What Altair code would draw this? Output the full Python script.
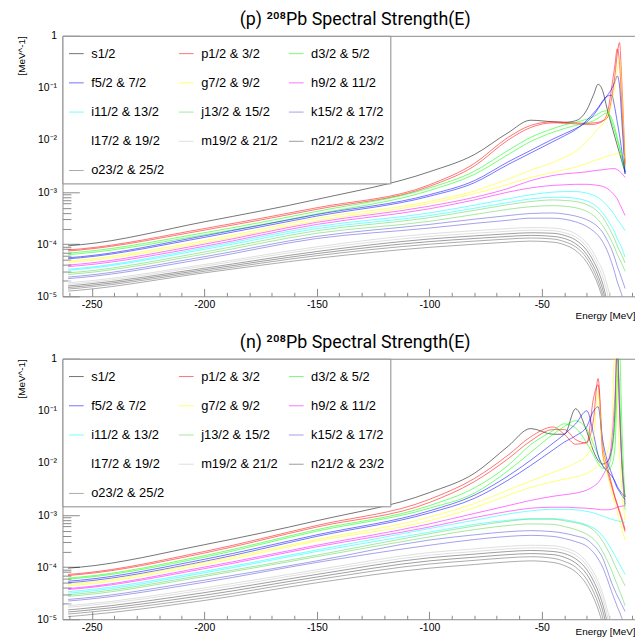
import altair as alt
import pandas as pd

# Energy grid [MeV] shared by all curves
E = [-260.5, -255, -200, -150, -100, -80, -65, -55, -45, -40, -35, -30, -27, -25,
     -23, -21, -19, -17.5, -16.5, -15.5, -14.5, -13]

GROUPS = ["s1/2", "p1/2 & 3/2", "d3/2 & 5/2", "f5/2 & 7/2", "g7/2 & 9/2", "h9/2 & 11/2",
          "i11/2 & 13/2", "j13/2 & 15/2", "k15/2 & 17/2", "l17/2 & 19/2", "m19/2 & 21/2",
          "n21/2 & 23/2", "o23/2 & 25/2"]
COLORS = ["#000000", "#ff0000", "#00ff00", "#0000ff", "#ffff00", "#ff00ff", "#00ffff",
          "#59d454", "#5954d9", "#ffffff", "#c4c4c4", "#4d4d4d", "#666666"]

# ---- proton panel, log10 of strength ----
P_S   = [-4.03, -4.01, -3.57, -3.14, -2.61, -2.28, -1.86, -1.62, -1.65, -1.66, -1.63, -1.42, -1.13, -0.93, -1.05, -1.40, -1.72, -1.95, -2.10, -2.25, -2.40, -2.62]
P_P_A = [-4.11, -4.09, -3.70, -3.30, -2.86, -2.45, -1.95, -1.72, -1.65, -1.66, -1.67, -1.68, -1.67, -1.66, -1.63, -1.58, -1.20, -0.75, -0.35, -0.13, -0.85, -2.45]
P_P_B = [-4.13, -4.11, -3.73, -3.33, -2.89, -2.50, -2.00, -1.76, -1.67, -1.68, -1.69, -1.70, -1.70, -1.68, -1.64, -1.50, -1.00, -0.55, -0.25, -0.50, -1.30, -2.50]
P_D_A = [-4.17, -4.15, -3.78, -3.37, -2.92, -2.60, -2.20, -1.95, -1.78, -1.71, -1.66, -1.60, -1.55, -1.50, -1.45, -1.44, -1.65, -1.85, -2.00, -2.15, -2.35, -2.60]
P_D_B = [-4.20, -4.18, -3.82, -3.42, -2.97, -2.66, -2.28, -2.03, -1.85, -1.78, -1.72, -1.67, -1.63, -1.58, -1.52, -1.48, -1.58, -1.78, -1.95, -2.12, -2.30, -2.60]
P_F_A = [-4.26, -4.24, -3.84, -3.43, -3.05, -2.78, -2.42, -2.20, -1.98, -1.88, -1.78, -1.65, -1.52, -1.40, -1.27, -1.15, -1.02, -0.88, -0.77, -0.95, -1.60, -2.65]
P_F_B = [-4.28, -4.26, -3.87, -3.46, -3.08, -2.82, -2.47, -2.25, -2.03, -1.92, -1.80, -1.62, -1.48, -1.38, -1.25, -1.16, -1.14, -1.40, -1.65, -1.90, -2.20, -2.65]
P_G_A = [-4.32, -4.30, -3.93, -3.50, -3.18, -2.98, -2.75, -2.58, -2.43, -2.33, -2.22, -2.02, -1.88, -1.78, -1.70, -1.55, -1.30, -0.95, -0.65, -0.45, -1.00, -2.50]
P_G_B = [-4.35, -4.33, -3.97, -3.55, -3.22, -3.03, -2.85, -2.72, -2.62, -2.57, -2.52, -2.45, -2.40, -2.37, -2.34, -2.31, -2.29, -2.27, -2.26, -2.26, -2.27, -2.35]
P_H_A = [-4.40, -4.38, -4.00, -3.58, -3.27, -3.10, -2.93, -2.78, -2.68, -2.65, -2.63, -2.61, -2.59, -2.58, -2.57, -2.56, -2.55, -2.55, -2.57, -2.60, -2.64, -2.72]
P_H_B = [-4.43, -4.41, -4.04, -3.62, -3.32, -3.15, -3.00, -2.92, -2.87, -2.86, -2.85, -2.85, -2.86, -2.87, -2.89, -2.93, -3.00, -3.07, -3.13, -3.22, -3.31, -3.45]
P_I_A = [-4.48, -4.46, -4.07, -3.66, -3.40, -3.25, -3.13, -3.05, -3.00, -2.99, -2.99, -3.02, -3.06, -3.10, -3.17, -3.26, -3.36, -3.45, -3.52, -3.58, -3.64, -3.74]
P_I_B = [-4.50, -4.48, -4.10, -3.70, -3.45, -3.31, -3.20, -3.13, -3.10, -3.10, -3.12, -3.17, -3.23, -3.30, -3.40, -3.52, -3.66, -3.78, -3.90, -3.98, -4.07, -4.25]
P_J_A = [-4.55, -4.53, -4.15, -3.74, -3.49, -3.35, -3.24, -3.18, -3.15, -3.16, -3.18, -3.24, -3.31, -3.38, -3.48, -3.62, -3.78, -3.92, -4.03, -4.12, -4.21, -4.36]
P_J_B = [-4.58, -4.56, -4.19, -3.79, -3.56, -3.43, -3.33, -3.28, -3.26, -3.27, -3.30, -3.37, -3.45, -3.53, -3.64, -3.78, -3.94, -4.08, -4.19, -4.28, -4.37, -4.52]
P_K_A = [-4.63, -4.61, -4.24, -3.85, -3.62, -3.52, -3.45, -3.41, -3.40, -3.42, -3.46, -3.53, -3.60, -3.67, -3.77, -3.92, -4.10, -4.28, -4.42, -4.54, -4.66, -4.85]
P_K_B = [-4.66, -4.64, -4.28, -3.89, -3.69, -3.60, -3.54, -3.50, -3.50, -3.52, -3.57, -3.66, -3.75, -3.83, -3.95, -4.12, -4.35, -4.56, -4.72, -4.84, -4.97, -5.20]
P_L_A = [-4.70, -4.68, -4.33, -3.97, -3.72, -3.66, -3.62, -3.60, -3.61, -3.64, -3.71, -3.88, -4.05, -4.20, -4.42, -4.75, -5.15, -5.45, -5.65, -5.85, -6.05, -6.40]
P_L_B = [-4.72, -4.70, -4.36, -4.01, -3.76, -3.70, -3.66, -3.64, -3.65, -3.68, -3.76, -3.94, -4.12, -4.27, -4.50, -4.83, -5.22, -5.50, -5.70, -5.90, -6.10, -6.45]
P_M_A = [-4.74, -4.72, -4.39, -4.05, -3.80, -3.74, -3.70, -3.68, -3.69, -3.72, -3.80, -3.98, -4.17, -4.33, -4.50, -4.78, -5.12, -5.45, -5.70, -5.90, -6.10, -6.50]
P_M_B = [-4.77, -4.75, -4.42, -4.09, -3.85, -3.79, -3.75, -3.73, -3.74, -3.78, -3.86, -4.05, -4.25, -4.42, -4.62, -4.92, -5.30, -5.60, -5.80, -6.00, -6.20, -6.60]
P_N_A = [-4.80, -4.78, -4.46, -4.14, -3.90, -3.84, -3.80, -3.78, -3.79, -3.83, -3.92, -4.12, -4.33, -4.51, -4.75, -5.10, -5.50, -5.80, -6.00, -6.20, -6.40, -6.70]
P_N_B = [-4.83, -4.81, -4.49, -4.18, -3.95, -3.89, -3.85, -3.83, -3.85, -3.89, -3.99, -4.20, -4.42, -4.61, -4.86, -5.22, -5.60, -5.90, -6.10, -6.30, -6.50, -6.80]
P_O_A = [-4.86, -4.84, -4.52, -4.22, -4.00, -3.94, -3.90, -3.88, -3.90, -3.95, -4.05, -4.27, -4.50, -4.70, -4.96, -5.32, -5.70, -6.00, -6.20, -6.40, -6.60, -6.90]
P_O_B = [-4.90, -4.88, -4.55, -4.27, -4.06, -4.00, -3.96, -3.94, -3.96, -4.01, -4.12, -4.35, -4.58, -4.78, -5.05, -5.40, -5.80, -6.10, -6.30, -6.50, -6.70, -7.00]

# ---- neutron panel ----
N_S   = [-4.02, -4.00, -3.57, -3.11, -2.57, -2.20, -1.68, -1.34, -1.45, -1.45, -0.96, -1.40, -1.78, -1.95, -2.02, -1.98, -1.75, -1.00, 0.30, -0.90, -1.90, -2.65]
N_P_A = [-4.14, -4.12, -3.70, -3.20, -2.70, -2.30, -1.85, -1.50, -1.31, -1.45, -1.64, -1.60, -1.15, -0.38, -1.65, -2.05, -2.40, -2.65, -2.78, -2.92, -3.05, -3.28]
N_P_B = [-4.16, -4.14, -3.73, -3.23, -2.76, -2.36, -1.92, -1.58, -1.36, -1.36, -1.55, -1.62, -0.75, -0.50, -1.80, -2.15, -2.45, -2.68, -2.82, -2.95, -3.10, -3.32]
N_D_A = [-4.21, -4.19, -3.78, -3.28, -2.82, -2.48, -2.05, -1.65, -1.38, -1.25, -1.33, -1.62, -1.85, -2.01, -2.10, -2.10, -1.80, -1.20, 0.20, -0.60, -1.90, -2.90]
N_D_B = [-4.23, -4.21, -3.81, -3.31, -2.87, -2.58, -2.15, -1.80, -1.45, -1.30, -1.19, -1.35, -1.65, -1.85, -2.05, -2.15, -2.05, -1.70, -0.50, 0.20, -1.20, -2.80]
N_F_A = [-4.27, -4.25, -3.85, -3.38, -2.92, -2.62, -2.25, -1.95, -1.62, -1.45, -1.25, -1.00, -1.45, -1.85, -2.05, -2.15, -2.25, -2.35, -2.45, -2.52, -2.58, -2.65]
N_F_B = [-4.30, -4.28, -3.89, -3.41, -2.96, -2.68, -2.33, -2.05, -1.75, -1.60, -1.48, -1.30, -1.00, -0.92, -1.55, -1.95, -2.20, -2.38, -2.48, -2.55, -2.62, -2.70]
N_G_A = [-4.33, -4.31, -3.91, -3.47, -3.04, -2.78, -2.52, -2.35, -2.18, -2.10, -2.00, -1.85, -1.50, -0.65, -1.70, -2.20, -2.55, -2.80, -2.95, -3.10, -3.25, -3.48]
N_G_B = [-4.36, -4.34, -3.95, -3.50, -3.11, -2.86, -2.62, -2.47, -2.36, -2.31, -2.27, -2.20, -2.12, -2.05, -1.95, -1.80, -1.40, 0.20, -0.80, -1.80, -2.50, -3.10]
N_H_A = [-4.41, -4.39, -4.00, -3.58, -3.17, -2.97, -2.82, -2.72, -2.64, -2.61, -2.58, -2.52, -2.45, -2.38, -2.25, -2.05, -1.60, -0.70, 0.20, -1.00, -2.00, -2.80]
N_H_B = [-4.43, -4.41, -4.03, -3.61, -3.23, -3.05, -2.93, -2.87, -2.85, -2.85, -2.86, -2.87, -2.88, -2.89, -2.90, -2.90, -2.89, -2.87, -2.85, -2.84, -2.83, -2.82]
N_I_A = [-4.47, -4.45, -4.08, -3.67, -3.26, -3.10, -2.98, -2.92, -2.89, -2.89, -2.90, -2.93, -2.96, -2.99, -3.02, -3.05, -3.08, -3.10, -3.11, -3.12, -3.13, -3.14]
N_I_B = [-4.50, -4.48, -4.11, -3.70, -3.33, -3.18, -3.10, -3.07, -3.07, -3.09, -3.13, -3.19, -3.25, -3.31, -3.40, -3.52, -3.66, -3.78, -3.86, -3.94, -4.02, -4.14]
N_J_A = [-4.53, -4.51, -4.15, -3.77, -3.36, -3.21, -3.12, -3.08, -3.08, -3.11, -3.15, -3.21, -3.29, -3.38, -3.50, -3.65, -3.82, -3.97, -4.06, -4.15, -4.23, -4.36]
N_J_B = [-4.56, -4.54, -4.18, -3.80, -3.42, -3.28, -3.20, -3.17, -3.18, -3.22, -3.28, -3.37, -3.46, -3.56, -3.70, -3.87, -4.06, -4.23, -4.34, -4.45, -4.56, -4.74]
N_K_A = [-4.62, -4.60, -4.25, -3.88, -3.48, -3.38, -3.32, -3.30, -3.32, -3.35, -3.40, -3.47, -3.58, -3.68, -3.82, -4.05, -4.30, -4.45, -4.55, -4.63, -4.72, -4.85]
N_K_B = [-4.65, -4.63, -4.29, -3.91, -3.58, -3.47, -3.41, -3.39, -3.41, -3.45, -3.51, -3.60, -3.72, -3.84, -4.00, -4.22, -4.47, -4.64, -4.76, -4.86, -4.97, -5.15]
N_L_A = [-4.68, -4.66, -4.33, -3.98, -3.64, -3.57, -3.52, -3.50, -3.51, -3.54, -3.61, -3.78, -3.96, -4.12, -4.35, -4.68, -5.08, -5.40, -5.60, -5.80, -6.00, -6.40]
N_L_B = [-4.71, -4.69, -4.36, -4.01, -3.68, -3.61, -3.56, -3.54, -3.55, -3.58, -3.66, -3.84, -4.03, -4.20, -4.43, -4.77, -5.17, -5.50, -5.70, -5.90, -6.10, -6.50]
N_M_A = [-4.74, -4.72, -4.40, -4.05, -3.72, -3.65, -3.60, -3.58, -3.59, -3.63, -3.71, -3.90, -4.10, -4.27, -4.50, -4.80, -5.15, -5.50, -5.70, -5.90, -6.10, -6.50]
N_M_B = [-4.77, -4.75, -4.44, -4.09, -3.77, -3.70, -3.65, -3.63, -3.64, -3.68, -3.77, -3.97, -4.18, -4.36, -4.60, -4.92, -5.30, -5.60, -5.80, -6.00, -6.20, -6.60]
N_N_A = [-4.82, -4.80, -4.49, -4.14, -3.82, -3.75, -3.70, -3.68, -3.70, -3.74, -3.84, -4.05, -4.27, -4.46, -4.71, -5.05, -5.45, -5.75, -5.95, -6.15, -6.35, -6.75]
N_N_B = [-4.86, -4.84, -4.54, -4.19, -3.88, -3.81, -3.76, -3.74, -3.76, -3.81, -3.92, -4.14, -4.37, -4.57, -4.83, -5.18, -5.58, -5.90, -6.10, -6.30, -6.50, -6.90]
N_O_A = [-4.90, -4.88, -4.59, -4.24, -3.94, -3.87, -3.82, -3.80, -3.83, -3.89, -4.00, -4.24, -4.48, -4.69, -4.96, -5.32, -5.72, -6.00, -6.20, -6.40, -6.60, -7.00]
N_O_B = [-4.95, -4.93, -4.64, -4.30, -4.02, -3.95, -3.90, -3.88, -3.91, -3.97, -4.09, -4.34, -4.59, -4.81, -5.09, -5.45, -5.85, -6.15, -6.35, -6.55, -6.75, -7.15]

PROTON = [P_S, P_P_A, P_P_B, P_D_A, P_D_B, P_F_A, P_F_B, P_G_A, P_G_B, P_H_A, P_H_B,
          P_I_A, P_I_B, P_J_A, P_J_B, P_K_A, P_K_B, P_L_A, P_L_B, P_M_A, P_M_B,
          P_N_A, P_N_B, P_O_A, P_O_B]
NEUTRON = [N_S, N_P_A, N_P_B, N_D_A, N_D_B, N_F_A, N_F_B, N_G_A, N_G_B, N_H_A, N_H_B,
           N_I_A, N_I_B, N_J_A, N_J_B, N_K_A, N_K_B, N_L_A, N_L_B, N_M_A, N_M_B,
           N_N_A, N_N_B, N_O_A, N_O_B]
CURVE_GROUP = [0] + [g for g in range(1, 13) for _ in (0, 1)]

MAJ_X = [-250, -200, -150, -100, -50]
MIN_X = [-260, -240, -230, -220, -210, -190, -180, -170, -160, -140, -130, -120, -110,
         -90, -80, -70, -60, -40, -30, -20, -10]
MAJ_Y = [1e-5, 1e-4, 1e-3, 1e-2, 1e-1, 1]
MIN_Y = [m * 10.0 ** k for k in range(-5, 0) for m in range(2, 10)]

W, H = 578, 263
FRAME = "#8a8a8a"


def frame_of(curves):
    rows = []
    for ci, vals in enumerate(curves):
        grp = GROUPS[CURVE_GROUP[ci]]
        for e, v in zip(E, vals):
            rows.append({"grp": grp, "curve": f"c{ci}", "E": e, "S": 10.0 ** v})
    return pd.DataFrame(rows)


def panel(curves, title, xty):
    d = frame_of(curves)
    xs = alt.Scale(domain=[-263, -8.6], nice=False, zero=False)
    ys = alt.Scale(type="log", domain=[1e-5, 1], nice=False)
    ylab = ("datum.value >= 0.5 ? '1' : '10' + ['', '\u207b\u00b9', '\u207b\u00b2', "
            "'\u207b\u00b3', '\u207b\u2074', '\u207b\u2075'][round(-log(datum.value)/LN10)]")
    inside = (alt.datum.S >= 1e-5) & (alt.datum.S <= 1)

    lines = alt.Chart(d).mark_line(clip=True, strokeWidth=1, opacity=0.55,
                                   interpolate="monotone").encode(
        x=alt.X("E:Q", scale=xs, axis=alt.Axis(
            orient="bottom", values=MAJ_X, labelExpr="'' + datum.value", ticks=False,
            grid=False, domainColor=FRAME, labelFontSize=10.5, labelColor="#000",
            labelPadding=3, title="Energy [MeV]", titleFontSize=10,
            titleFontWeight="normal", titleColor="#000", titleX=W, titleY=xty,
            titleAlign="right", titleBaseline="middle")),
        y=alt.Y("S:Q", scale=ys, axis=alt.Axis(
            orient="left", values=MAJ_Y, labelExpr=ylab, ticks=False, grid=False,
            domainColor=FRAME, labelFontSize=10.5, labelColor="#000", labelPadding=6,
            title="[MeV^-1]", titleFontSize=10, titleFontWeight="normal",
            titleColor="#000", titleAngle=270, titleX=-41, titleY=0,
            titleAlign="right", titleBaseline="middle")),
        color=alt.Color("grp:N", scale=alt.Scale(domain=GROUPS, range=COLORS),
                        legend=alt.Legend(
                            orient="none", legendX=0, legendY=0, columns=3,
                            direction="horizontal",
                            symbolType="stroke", symbolSize=220, symbolStrokeWidth=1,
                            symbolOpacity=0.55, labelFontSize=13, labelColor="#000",
                            labelOffset=7, rowPadding=14.5, columnPadding=8, padding=6,
                            strokeColor=FRAME, fillColor="white", title=" ",
                            titleFontSize=1, titlePadding=3,
                            gridAlign="all", labelLimit=300)),
        detail="curve:N",
    )

    border = alt.Chart(d).mark_point(opacity=0, clip=True).encode(
        x=alt.X("E:Q", scale=xs, axis=alt.Axis(
            orient="top", offset=0, ticks=False, labels=False, grid=False,
            domainColor=FRAME, title=title, titleFont="Roboto", titleFontSize=18,
            titleFontWeight="normal", titleColor="#000", titleX=295, titleY=-25,
            titleAlign="center", titleBaseline="top")),
        y=alt.Y("S:Q", scale=ys, axis=None),
    ).transform_filter(inside)

    major = alt.Chart(d).mark_point(opacity=0, clip=True).encode(
        x=alt.X("E:Q", scale=xs, title=None, axis=alt.Axis(
            orient="top", offset=-H, values=MAJ_X, tickSize=8, tickColor=FRAME,
            labels=False, domain=False, grid=False)),
        y=alt.Y("S:Q", scale=ys, title=None, axis=alt.Axis(
            orient="right", offset=-W, values=MAJ_Y, tickSize=17, tickColor=FRAME,
            labels=False, domain=False, grid=False)),
    ).transform_filter(inside)

    minor = alt.Chart(d).mark_point(opacity=0, clip=True).encode(
        x=alt.X("E:Q", scale=xs, title=None, axis=alt.Axis(
            orient="top", offset=-H, values=MIN_X, tickSize=4, tickColor=FRAME,
            labels=False, domain=False, grid=False)),
        y=alt.Y("S:Q", scale=ys, title=None, axis=alt.Axis(
            orient="right", offset=-W, values=MIN_Y, tickSize=8.5, tickColor=FRAME,
            labels=False, domain=False, grid=False)),
    ).transform_filter(inside)

    return alt.layer(major, minor, border, lines).resolve_axis(
        x="independent", y="independent").properties(width=W, height=H)


top = panel(PROTON, "(p)  \u00b2\u2070\u2078Pb Spectral Strength(E)", 19)
bottom = panel(NEUTRON, "(n)  \u00b2\u2070\u2078Pb Spectral Strength(E)", 12)

chart = alt.vconcat(top, bottom, spacing=14).resolve_scale(
    color="independent").resolve_legend(color="independent").properties(
    padding={"left": 9, "top": 0, "right": 0, "bottom": 14}).configure(
    font="Liberation Sans").configure_view(stroke=None)

chart.save("out.html", embed_options={"renderer": "svg", "actions": False})
